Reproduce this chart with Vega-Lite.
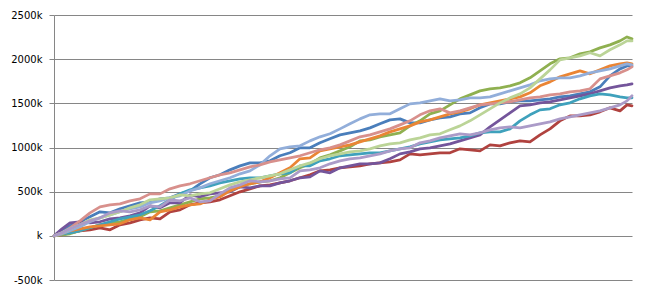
{
"$schema": "https://vega.github.io/schema/vega-lite/v6.json",
"width": 578, "height": 265,
"autosize": {"type": "none"},
"padding": {"left": 54, "top": 15, "right": 15, "bottom": 16},
"background": "white",
"config": {"view": {"stroke": null}, "font": "DejaVu Sans"},
"data": {"values": [
{"t":0,"S1":0,"S2":0,"S3":0,"S4":0,"S5":0,"S6":0,"S7":0,"S8":0,"S9":0,"S10":0},
{"t":8,"S1":68,"S2":11,"S3":11,"S4":79,"S5":23,"S6":23,"S7":23,"S8":34,"S9":34,"S10":34},
{"t":16,"S1":113,"S2":34,"S3":23,"S4":147,"S5":34,"S6":57,"S7":57,"S8":91,"S9":79,"S10":79},
{"t":26,"S1":158,"S2":57,"S3":57,"S4":159,"S5":57,"S6":79,"S7":102,"S8":170,"S9":125,"S10":125},
{"t":36,"S1":215,"S2":68,"S3":91,"S4":147,"S5":91,"S6":102,"S7":159,"S8":260,"S9":181,"S10":170},
{"t":46,"S1":272,"S2":91,"S3":125,"S4":159,"S5":125,"S6":113,"S7":204,"S8":328,"S9":204,"S10":204},
{"t":56,"S1":260,"S2":68,"S3":147,"S4":192,"S5":159,"S6":125,"S7":238,"S8":351,"S9":238,"S10":260},
{"t":66,"S1":306,"S2":125,"S3":159,"S4":204,"S5":192,"S6":136,"S7":272,"S8":362,"S9":272,"S10":283},
{"t":76,"S1":340,"S2":147,"S3":192,"S4":226,"S5":215,"S6":181,"S7":306,"S8":396,"S9":317,"S10":272},
{"t":86,"S1":374,"S2":181,"S3":215,"S4":260,"S5":238,"S6":204,"S7":328,"S8":419,"S9":351,"S10":294},
{"t":96,"S1":385,"S2":204,"S3":272,"S4":340,"S5":283,"S6":181,"S7":374,"S8":475,"S9":408,"S10":340},
{"t":106,"S1":419,"S2":192,"S3":283,"S4":317,"S5":340,"S6":272,"S7":396,"S8":475,"S9":419,"S10":328},
{"t":116,"S1":430,"S2":272,"S3":317,"S4":374,"S5":408,"S6":294,"S7":430,"S8":532,"S9":430,"S10":408},
{"t":126,"S1":475,"S2":294,"S3":351,"S4":374,"S5":475,"S6":328,"S7":453,"S8":566,"S9":464,"S10":396},
{"t":136,"S1":509,"S2":351,"S3":385,"S4":464,"S5":521,"S6":351,"S7":509,"S8":589,"S9":453,"S10":430},
{"t":146,"S1":589,"S2":374,"S3":419,"S4":442,"S5":543,"S6":362,"S7":543,"S8":623,"S9":475,"S10":385},
{"t":156,"S1":657,"S2":385,"S3":430,"S4":475,"S5":566,"S6":408,"S7":589,"S8":657,"S9":487,"S10":396},
{"t":166,"S1":691,"S2":408,"S3":453,"S4":487,"S5":600,"S6":442,"S7":623,"S8":690,"S9":532,"S10":475},
{"t":176,"S1":747,"S2":453,"S3":532,"S4":498,"S5":623,"S6":509,"S7":657,"S8":713,"S9":577,"S10":543},
{"t":186,"S1":792,"S2":498,"S3":555,"S4":555,"S5":645,"S6":555,"S7":702,"S8":747,"S9":611,"S10":577},
{"t":196,"S1":826,"S2":532,"S3":589,"S4":543,"S5":657,"S6":589,"S7":736,"S8":781,"S9":634,"S10":623},
{"t":206,"S1":826,"S2":566,"S3":611,"S4":566,"S5":657,"S6":611,"S7":804,"S8":804,"S9":657,"S10":611},
{"t":216,"S1":849,"S2":577,"S3":623,"S4":566,"S5":679,"S6":657,"S7":906,"S8":838,"S9":679,"S10":623},
{"t":226,"S1":906,"S2":600,"S3":657,"S4":600,"S5":702,"S6":713,"S7":985,"S8":860,"S9":702,"S10":645},
{"t":236,"S1":940,"S2":623,"S3":713,"S4":623,"S5":713,"S6":770,"S7":1008,"S8":883,"S9":747,"S10":657},
{"t":246,"S1":996,"S2":657,"S3":770,"S4":657,"S5":792,"S6":872,"S7":1019,"S8":906,"S9":792,"S10":736},
{"t":256,"S1":996,"S2":691,"S3":815,"S4":668,"S5":792,"S6":883,"S7":1075,"S8":940,"S9":826,"S10":747},
{"t":266,"S1":1053,"S2":736,"S3":883,"S4":736,"S5":849,"S6":962,"S7":1121,"S8":974,"S9":872,"S10":770},
{"t":276,"S1":1098,"S2":747,"S3":917,"S4":713,"S5":872,"S6":985,"S7":1155,"S8":996,"S9":906,"S10":815},
{"t":286,"S1":1143,"S2":770,"S3":962,"S4":770,"S5":906,"S6":1007,"S7":1211,"S8":1030,"S9":928,"S10":849},
{"t":296,"S1":1166,"S2":781,"S3":1008,"S4":792,"S5":917,"S6":1030,"S7":1268,"S8":1075,"S9":951,"S10":872},
{"t":306,"S1":1189,"S2":792,"S3":1075,"S4":815,"S5":928,"S6":1064,"S7":1324,"S8":1121,"S9":962,"S10":883},
{"t":316,"S1":1222,"S2":815,"S3":1087,"S4":815,"S5":940,"S6":1098,"S7":1370,"S8":1143,"S9":985,"S10":906},
{"t":326,"S1":1268,"S2":826,"S3":1121,"S4":826,"S5":940,"S6":1132,"S7":1381,"S8":1177,"S9":1019,"S10":928},
{"t":336,"S1":1313,"S2":838,"S3":1143,"S4":872,"S5":962,"S6":1177,"S7":1381,"S8":1211,"S9":1041,"S10":962},
{"t":346,"S1":1324,"S2":860,"S3":1166,"S4":928,"S5":985,"S6":1211,"S7":1438,"S8":1256,"S9":1053,"S10":985},
{"t":356,"S1":1279,"S2":928,"S3":1245,"S4":951,"S5":1007,"S6":1245,"S7":1494,"S8":1302,"S9":1087,"S10":996},
{"t":366,"S1":1279,"S2":917,"S3":1302,"S4":985,"S5":1041,"S6":1290,"S7":1506,"S8":1370,"S9":1109,"S10":1053},
{"t":376,"S1":1313,"S2":928,"S3":1381,"S4":996,"S5":1064,"S6":1313,"S7":1528,"S8":1415,"S9":1143,"S10":1075},
{"t":386,"S1":1336,"S2":940,"S3":1415,"S4":1019,"S5":1087,"S6":1347,"S7":1551,"S8":1438,"S9":1155,"S10":1109},
{"t":396,"S1":1347,"S2":940,"S3":1483,"S4":1041,"S5":1098,"S6":1381,"S7":1528,"S8":1392,"S9":1200,"S10":1132},
{"t":406,"S1":1381,"S2":985,"S3":1551,"S4":1075,"S5":1109,"S6":1404,"S7":1540,"S8":1415,"S9":1245,"S10":1155},
{"t":416,"S1":1392,"S2":974,"S3":1596,"S4":1109,"S5":1132,"S6":1438,"S7":1562,"S8":1449,"S9":1302,"S10":1143},
{"t":426,"S1":1449,"S2":962,"S3":1641,"S4":1143,"S5":1166,"S6":1483,"S7":1562,"S8":1483,"S9":1370,"S10":1166},
{"t":436,"S1":1494,"S2":1030,"S3":1664,"S4":1234,"S5":1177,"S6":1506,"S7":1573,"S8":1494,"S9":1438,"S10":1200},
{"t":446,"S1":1494,"S2":1019,"S3":1675,"S4":1313,"S5":1177,"S6":1528,"S7":1607,"S8":1506,"S9":1505,"S10":1222},
{"t":456,"S1":1517,"S2":1053,"S3":1698,"S4":1392,"S5":1211,"S6":1551,"S7":1641,"S8":1517,"S9":1562,"S10":1234},
{"t":466,"S1":1528,"S2":1075,"S3":1732,"S4":1472,"S5":1302,"S6":1573,"S7":1675,"S8":1540,"S9":1607,"S10":1222},
{"t":476,"S1":1528,"S2":1064,"S3":1789,"S4":1483,"S5":1370,"S6":1619,"S7":1709,"S8":1562,"S9":1675,"S10":1245},
{"t":486,"S1":1540,"S2":1143,"S3":1868,"S4":1506,"S5":1426,"S6":1698,"S7":1755,"S8":1573,"S9":1777,"S10":1268},
{"t":496,"S1":1551,"S2":1211,"S3":1947,"S4":1517,"S5":1438,"S6":1743,"S7":1777,"S8":1596,"S9":1879,"S10":1290},
{"t":506,"S1":1573,"S2":1302,"S3":2004,"S4":1540,"S5":1483,"S6":1800,"S7":1789,"S8":1607,"S9":1992,"S10":1324},
{"t":516,"S1":1585,"S2":1358,"S3":2015,"S4":1562,"S5":1506,"S6":1834,"S7":1789,"S8":1630,"S9":2015,"S10":1347},
{"t":526,"S1":1607,"S2":1358,"S3":2060,"S4":1585,"S5":1551,"S6":1868,"S7":1811,"S8":1641,"S9":2038,"S10":1370},
{"t":536,"S1":1630,"S2":1370,"S3":2083,"S4":1608,"S5":1585,"S6":1834,"S7":1845,"S8":1664,"S9":2072,"S10":1392},
{"t":546,"S1":1687,"S2":1404,"S3":2128,"S4":1641,"S5":1607,"S6":1879,"S7":1868,"S8":1777,"S9":2038,"S10":1415},
{"t":556,"S1":1811,"S2":1449,"S3":2162,"S4":1675,"S5":1596,"S6":1924,"S7":1890,"S8":1811,"S9":2106,"S10":1449},
{"t":566,"S1":1890,"S2":1415,"S3":2207,"S4":1698,"S5":1573,"S6":1947,"S7":1924,"S8":1845,"S9":2162,"S10":1483},
{"t":573,"S1":1924,"S2":1483,"S3":2252,"S4":1709,"S5":1562,"S6":1958,"S7":1947,"S8":1879,"S9":2207,"S10":1528},
{"t":578,"S1":1924,"S2":1472,"S3":2230,"S4":1721,"S5":1562,"S6":1947,"S7":1936,"S8":1913,"S9":2207,"S10":1585}
]},
"transform": [{"fold": ["S1","S2","S3","S4","S5","S6","S7","S8","S9","S10"], "as": ["series","value"]}],
"mark": {"type": "line", "strokeWidth": 2.75, "strokeJoin": "round", "strokeCap": "round"},
"encoding": {
  "x": {"field": "t", "type": "quantitative", "scale": {"domain": [0, 578], "nice": false, "zero": false}, "axis": null},
  "y": {"field": "value", "type": "quantitative", "scale": {"domain": [-500, 2500], "nice": false},
        "axis": {"values": [-500,0,500,1000,1500,2000,2500], "title": null,
                 "labelExpr": "datum.value == 0 ? 'k' : datum.value + 'k'",
                 "grid": true, "gridColor": "#868686", "gridWidth": 1, "gridOpacity": 1,
                 "domainColor": "#868686", "domainWidth": 1, "tickColor": "#868686", "tickSize": 5, "tickWidth": 1,
                 "labelPadding": 7, "labelFont": "DejaVu Sans", "labelFontSize": 10, "labelColor": "#000000"}},
  "color": {"field": "series", "type": "nominal", "legend": null,
            "scale": {"domain": ["S1","S2","S3","S4","S5","S6","S7","S8","S9","S10"],
                      "range": ["#4A7EBB","#B0423F","#8FB050","#74559B","#3FA1BC","#EA8535","#92AEDA","#D8908C","#BBD497","#AB9BC8"]}}
}
}
